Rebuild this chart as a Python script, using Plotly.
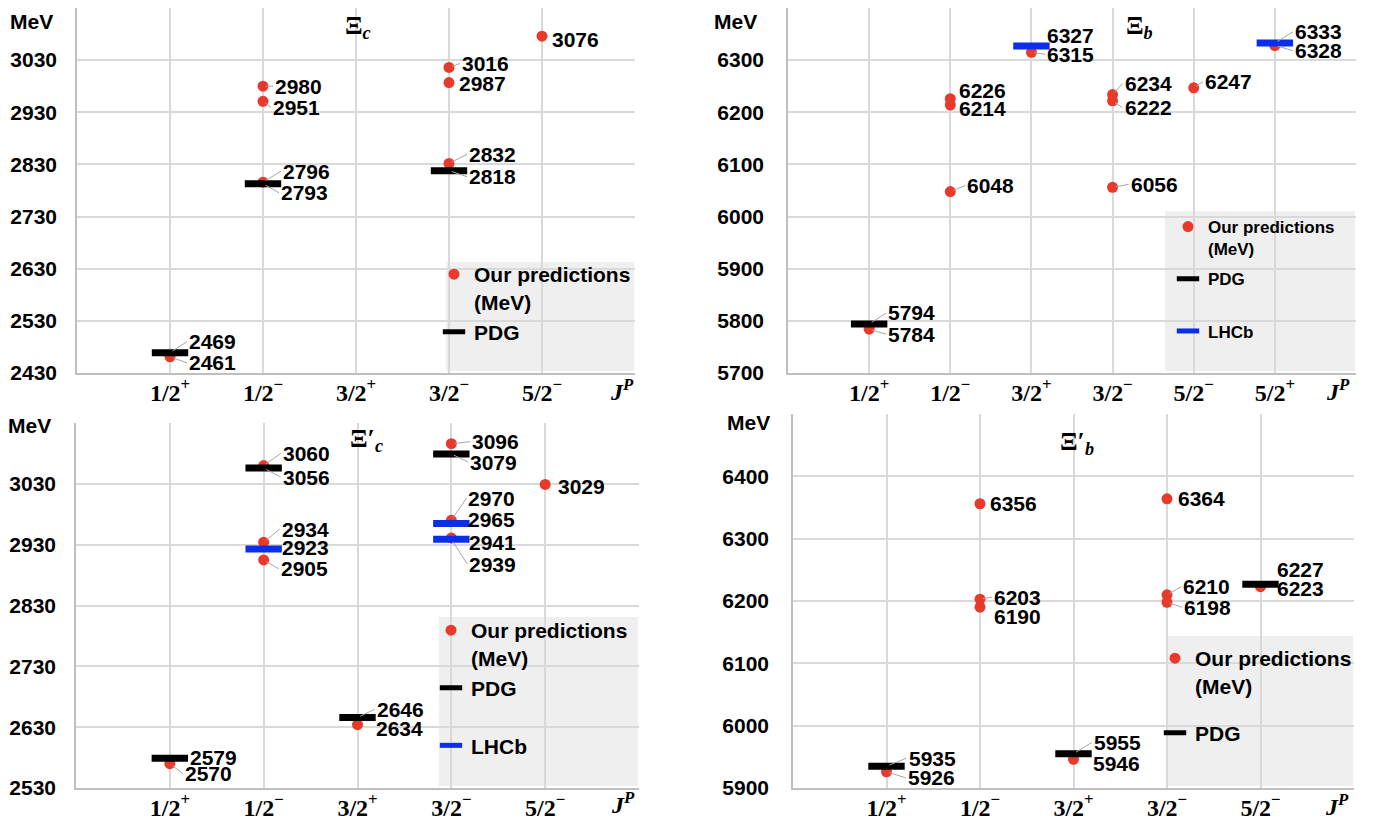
import plotly.graph_objects as go

# figure sits inside the page body's default 8 px margin
OFF = 8
W, H = 1379, 815

# ---------------- data ----------------
# Xi_c
cats_xic = ["1/2+", "1/2-", "3/2+", "3/2-", "5/2-"]
xic_pred_jp = ["1/2+", "1/2-", "1/2-", "1/2-", "3/2-", "3/2-", "3/2-", "5/2-"]
xic_pred_m = [2461, 2796, 2951, 2980, 2832, 2987, 3016, 3076]
xic_pdg_jp = ["1/2+", "1/2-", "3/2-"]
xic_pdg_m = [2469, 2793, 2818]
xic_yticks = [2430, 2530, 2630, 2730, 2830, 2930, 3030, 3130]

# Xi_b
cats_xib = ["1/2+", "1/2-", "3/2+", "3/2-", "5/2-", "5/2+"]
xib_pred_jp = ["1/2+", "1/2-", "1/2-", "1/2-", "3/2+", "3/2-", "3/2-", "3/2-", "5/2-", "5/2+"]
xib_pred_m = [5784, 6048, 6214, 6226, 6315, 6056, 6222, 6234, 6247, 6328]
xib_pdg_jp = ["1/2+"]
xib_pdg_m = [5794]
xib_lhcb_jp = ["3/2+", "5/2+"]
xib_lhcb_m = [6327, 6333]
xib_yticks = [5700, 5800, 5900, 6000, 6100, 6200, 6300, 6400]

# Xi_c'
cats_xicp = ["1/2+", "1/2-", "3/2+", "3/2-", "5/2-"]
xicp_pred_jp = ["1/2+", "1/2-", "1/2-", "1/2-", "3/2+", "3/2-", "3/2-", "3/2-", "5/2-"]
xicp_pred_m = [2570, 2905, 2934, 3060, 2634, 2941, 2970, 3096, 3029]
xicp_pdg_jp = ["1/2+", "1/2-", "3/2+", "3/2-"]
xicp_pdg_m = [2579, 3056, 2646, 3079]
xicp_lhcb_jp = ["1/2-", "3/2-", "3/2-"]
xicp_lhcb_m = [2923, 2939, 2965]
xicp_yticks = [2530, 2630, 2730, 2830, 2930, 3030, 3130]

# Xi_b'
cats_xibp = ["1/2+", "1/2-", "3/2+", "3/2-", "5/2-"]
xibp_pred_jp = ["1/2+", "1/2-", "1/2-", "1/2-", "3/2+", "3/2-", "3/2-", "3/2-", "5/2-"]
xibp_pred_m = [5926, 6190, 6203, 6356, 5946, 6198, 6210, 6364, 6223]
xibp_pdg_jp = ["1/2+", "3/2+", "5/2-"]
xibp_pdg_m = [5935, 5955, 6227]
xibp_yticks = [5900, 6000, 6100, 6200, 6300, 6400, 6500]

# ---------------- styles ----------------
FONT = "Liberation Sans"
SERIF = "Liberation Serif"
RED = "#e8392b"
BLUE = "#0b2ee8"
GRID = "#d9d9d9"
AXL = "#bfbfbf"
LEGBG = "#efefef"
LEADER = "#a6a6a6"

# label offsets (dx px to the right, dy px downward, leader line flag)
xic_pred_off = [(17, 6, 1), (18, -11, 1), (8, 6, 1), (10, 0, 1), (18, -9, 1), (8, 1, 0), (11, -4, 1), (8, 3, 0)]
xic_pdg_off = [(17, -11, 1), (16, 9, 1), (18, 6, 1)]
xib_pred_off = [(17, 5, 1), (15, -6, 1), (7, 4, 0), (7, -8, 0), (14, 2, 1), (16, -3, 1), (10, 7, 1), (10, -11, 1), (9, -6, 1), (18, 5, 1)]
xib_pdg_off = [(17, -11, 1)]
xib_lhcb_off = [(14, -11, 0), (18, -11, 1)]
xicp_pred_off = [(13, 10, 1), (15, 9, 1), (16, -13, 1), (17, -12, 1), (16, 4, 0), (16, 5, 0), (15, -22, 1), (19, -2, 1), (11, 2, 0)]
xicp_pdg_off = [(18, -1, 0), (17, 9, 1), (17, -8, 1), (17, 8, 1)]
xicp_lhcb_off = [(16, -1, 0), (16, 25, 1), (15, -4, 0)]
xibp_pred_off = [(19, 6, 1), (12, 9, 0), (12, -2, 1), (8, 0, 0), (17, 4, 0), (15, 5, 1), (14, -8, 1), (9, 0, 0), (14, 2, 0)]
xibp_pdg_off = [(20, -8, 1), (18, -11, 1), (14, -15, 0)]


def jp_html(c):
    return c[:-1] + "<sup>" + ("+" if c[-1] == "+" else "−") + "</sup>"


def px(x):
    return (x - OFF) / W


def py(y):
    return 1 - (max(y, OFF) - OFF) / H


panels = [
    dict(cats=cats_xic, yticks=xic_yticks,
         series=[("pred", xic_pred_jp, xic_pred_m, xic_pred_off),
                 ("pdg", xic_pdg_jp, xic_pdg_m, xic_pdg_off)],
         box=(77, 635, 6, 373), title="Ξ<sub><i>c</i></sub>", title_xy=(358, 27),
         title_box=(321, 397, 0, 43), mev=(55, 21), jp=(622, 390), ystand=14,
         leg=dict(pos=(434, 254), size=21, gap=0), legbox=(446, 634, 262, 371)),
    dict(cats=cats_xib, yticks=xib_yticks,
         series=[("pred", xib_pred_jp, xib_pred_m, xib_pred_off),
                 ("pdg", xib_pdg_jp, xib_pdg_m, xib_pdg_off),
                 ("lhcb", xib_lhcb_jp, xib_lhcb_m, xib_lhcb_off)],
         box=(788, 1356, 6, 373), title="Ξ<sub><i>b</i></sub>", title_xy=(1139, 27),
         title_box=(1099, 1182, 0, 43), mev=(759, 21), jp=(1338, 390), ystand=18,
         leg=dict(pos=(1168, 209), size=17, gap=5), legbox=(1165, 1355, 211, 371)),
    dict(cats=cats_xicp, yticks=xicp_yticks,
         series=[("pred", xicp_pred_jp, xicp_pred_m, xicp_pred_off),
                 ("pdg", xicp_pdg_jp, xicp_pdg_m, xicp_pdg_off),
                 ("lhcb", xicp_lhcb_jp, xicp_lhcb_m, xicp_lhcb_off)],
         box=(76, 639, 423, 788), title="Ξ′<sub><i>c</i></sub>", title_xy=(366, 440),
         title_box=(333, 402, 414, 463), mev=(53, 425), jp=(623, 803), ystand=14,
         leg=dict(pos=(431, 610), size=21, gap=0), legbox=(439, 638, 617, 786)),
    dict(cats=cats_xibp, yticks=xibp_yticks,
         series=[("pred", xibp_pred_jp, xibp_pred_m, xibp_pred_off),
                 ("pdg", xibp_pdg_jp, xibp_pdg_m, xibp_pdg_off)],
         box=(793, 1354, 414, 788), title="Ξ′<sub><i>b</i></sub>", title_xy=(1077, 443),
         title_box=(1037, 1119, 405, 465), mev=(772, 423), jp=(1337, 805), ystand=18,
         leg=dict(pos=(1155, 638), size=21, gap=17), legbox=(1168, 1353, 636, 786)),
]

fig = go.Figure()
annotations = []
shapes = []
layout = {}

for i, p in enumerate(panels, start=1):
    sfx = "" if i == 1 else str(i)
    xa, ya = "x" + sfx, "y" + sfx
    legname = "legend" + sfx
    n = len(p["cats"])
    x0, x1, y0, y1 = p["box"]
    has_lhcb = any(s[0] == "lhcb" for s in p["series"])

    layout["xaxis" + sfx] = dict(
        domain=[px(x0), px(x1)], range=[0, n + 1], anchor=ya,
        tickvals=list(range(1, n + 2)),
        ticktext=[jp_html(c) for c in p["cats"]] + [""],
        showgrid=True, gridcolor=GRID, gridwidth=1.5, zeroline=False,
        showline=True, linecolor=AXL, linewidth=1.5, ticks="",
        tickfont=dict(family=SERIF, size=24, color="black", weight="bold"),
        ticklabelstandoff=-3, automargin=False, fixedrange=True)
    yt = p["yticks"]
    layout["yaxis" + sfx] = dict(
        domain=[py(y1), py(y0)], range=[yt[0], yt[-1]], anchor=xa,
        tickvals=yt, ticktext=[str(v) for v in yt[:-1]] + [""],
        showgrid=True, gridcolor=GRID, gridwidth=1.5, zeroline=False,
        showline=True, linecolor=AXL, linewidth=1.5, ticks="",
        tickfont=dict(family=FONT, size=21, color="black", weight="bold"),
        ticklabelstandoff=p["ystand"], automargin=False, fixedrange=True)

    lg = p["leg"]
    layout[legname] = dict(
        x=px(lg["pos"][0]), y=py(lg["pos"][1]), xanchor="left", yanchor="top",
        bgcolor="rgba(0,0,0,0)", borderwidth=0, valign="top",
        tracegroupgap=lg["gap"], itemsizing="trace",
        font=dict(family=FONT, size=lg["size"], color="black", weight="bold"))

    for kind, jps, vals, offs in p["series"]:
        xs = [p["cats"].index(j) + 1 for j in jps]
        if kind == "pred":
            name = "Our predictions<br>(MeV)"
            marker = dict(symbol="circle", size=11, color=RED)
        elif kind == "pdg":
            name = "PDG<br>\u00a0" if has_lhcb else "PDG"
            marker = dict(symbol="line-ew", size=26, color="black",
                          line=dict(width=7, color="black"))
        else:
            name = "LHCb"
            marker = dict(symbol="line-ew", size=26, color=BLUE,
                          line=dict(width=7, color=BLUE))
        fig.add_trace(go.Scatter(
            x=xs, y=vals, mode="markers", marker=marker, name=name,
            xaxis=xa, yaxis=ya, legend=legname, legendgroup=f"{kind}{i}",
            hoverinfo="skip"))
        for xv, v, (dx, dy, lead) in zip(xs, vals, offs):
            lab = dict(x=xv, y=v, xref=xa, yref=ya, text=str(v),
                       xanchor="left", yanchor="middle",
                       font=dict(family=FONT, size=21, color="black", weight="bold"))
            if lead:
                lab.update(showarrow=True, ax=dx, ay=dy, axref="pixel", ayref="pixel",
                           arrowhead=0, arrowwidth=1, arrowcolor=LEADER, standoff=3)
            else:
                lab.update(showarrow=False, xshift=dx, yshift=-dy)
            annotations.append(lab)

    # legend background box
    lx0, lx1, ly0, ly1 = p["legbox"]
    shapes.append(dict(type="rect", xref="paper", yref="paper",
                       x0=px(lx0), x1=px(lx1), y0=py(ly1), y1=py(ly0),
                       fillcolor=LEGBG, line=dict(width=0), layer="between"))
    # title white box and text
    tx0, tx1, ty0, ty1 = p["title_box"]
    shapes.append(dict(type="rect", xref="paper", yref="paper",
                       x0=px(tx0), x1=px(tx1), y0=py(ty1), y1=py(ty0),
                       fillcolor="white", line=dict(width=0), layer="between"))
    annotations.append(dict(x=px(p["title_xy"][0]), y=py(p["title_xy"][1]),
                            xref="paper", yref="paper", text=p["title"],
                            showarrow=False, xanchor="center", yanchor="middle",
                            font=dict(family=SERIF, size=26, color="black", weight="bold")))
    # MeV unit label
    annotations.append(dict(x=px(p["mev"][0]), y=py(p["mev"][1]), xref="paper", yref="paper",
                            text="MeV", showarrow=False, xanchor="right", yanchor="middle",
                            font=dict(family=FONT, size=21, color="black", weight="bold")))
    # J^P axis label
    annotations.append(dict(x=px(p["jp"][0]), y=py(p["jp"][1]), xref="paper", yref="paper",
                            text="<i>J</i><sup><i>P</i></sup>", showarrow=False,
                            xanchor="center", yanchor="middle",
                            font=dict(family=SERIF, size=24, color="black", weight="bold")))

fig.update_layout(
    width=W, height=H, margin=dict(l=0, r=0, t=0, b=0),
    paper_bgcolor="white", plot_bgcolor="white",
    showlegend=True, annotations=annotations, shapes=shapes, **layout)

fig.write_html("out.html")
